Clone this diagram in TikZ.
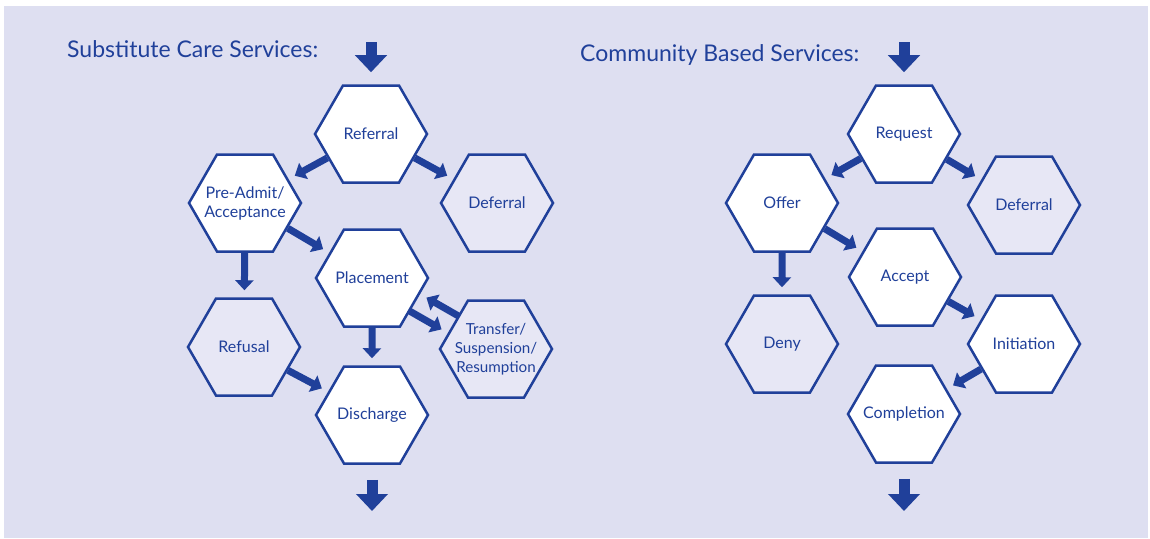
\documentclass[tikz,border=0pt]{standalone}
\usepackage{fontspec}
\setmainfont{Lato}
\usetikzlibrary{shapes.geometric,arrows.meta,calc}
\definecolor{hexblue}{RGB}{32,64,154}
\definecolor{backlav}{RGB}{222,223,241}
\definecolor{softlav}{RGB}{231,231,245}
\begin{document}
\begin{tikzpicture}[x=1pt,y=-1pt,line join=miter]
	\tikzset{hexa/.style={regular polygon,regular polygon sides=6,minimum size=112pt,inner sep=-15pt,
			draw=hexblue,line width=2.5pt,fill=white,text=hexblue,align=center,
			font=\fontsize{16}{19}\selectfont},
		side/.style={hexa,fill=softlav},
		arr/.style={draw=hexblue,line width=7pt,-{Triangle[width=18pt,length=10pt]},shorten >=7pt},
		bigarr/.style={draw=hexblue,line width=11pt,-{Triangle[width=31pt,length=17pt]}},
		heading/.style={anchor=base west,inner sep=0pt,text=hexblue,font=\fontsize{23}{27}\selectfont}}
	\useasboundingbox (0,0) rectangle (1150,538);
	\fill[white] (0,0) rectangle (1150,538);
	\fill[backlav] (4,6) rectangle (1148,538);
	% substitute care
	\node[heading] (subt) at (67,57) {Substitute Care Services:};
	\node[hexa] (ref) at (371,134) {Referral};
	\node[hexa] (pre) at (245,203) {Pre-Admit/\\Acceptance};
	\node[side] (dfl) at (497,203) {Deferral};
	\node[hexa] (plc) at (372,278) {Placement};
	\node[side] (rfs) at (244,347) {Refusal};
	\node[side,font=\fontsize{15.2}{19}\selectfont] (trs) at (496,349) {Transfer/\\Suspension/\\Resumption};
	\node[hexa] (dis) at (372,415) {Discharge};
	\coordinate (in1) at (371,42);
	\coordinate (out1) at (372,511);
	\draw[bigarr,shorten >=12pt] (in1) -- (ref);
	\draw[bigarr,shorten <=15pt] (dis) -- (out1);
	\foreach \a/\b in {ref/pre,ref/dfl,pre/plc,pre/rfs,plc/dis,rfs/dis}
	\draw[arr] (\a) -- (\b);
	\draw[arr,shorten <=49pt,shorten >=57pt] ($(plc)!10pt!-90:(trs)$) -- ($(trs)!10pt!90:(plc)$);
	\draw[arr,shorten <=49pt,shorten >=57pt] ($(trs)!10pt!-90:(plc)$) -- ($(plc)!10pt!90:(trs)$);
	% community based
	\node[heading] (comm) at (580,61) {Community Based Services:};
	\node[hexa] (req) at (904,134) {Request};
	\node[hexa] (off) at (782,203) {Offer};
	\node[side] (dfr) at (1024,205) {Deferral};
	\node[hexa] (acc) at (905,277) {Accept};
	\node[side] (den) at (782,344) {Deny};
	\node[hexa] (ini) at (1024,344) {Initiation};
	\node[hexa] (cmp) at (904,414) {Completion};
	\coordinate (in2) at (904,42);
	\coordinate (out2) at (904,511);
	\draw[bigarr,shorten >=12pt] (in2) -- (req);
	\draw[bigarr,shorten <=15pt] (cmp) -- (out2);
	\foreach \a/\b in {req/off,req/dfr,off/acc,off/den,acc/ini,ini/cmp}
	\draw[arr] (\a) -- (\b);
\end{tikzpicture}
\end{document}
